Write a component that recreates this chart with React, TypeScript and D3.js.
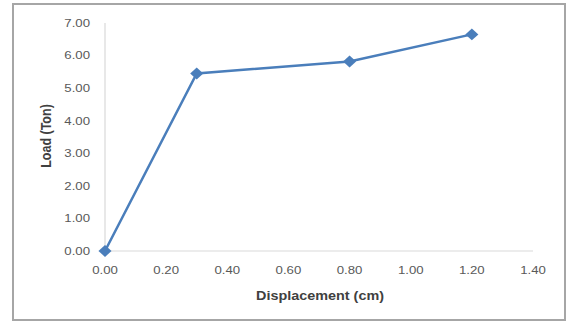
import React from "react";
import * as d3 from "d3";

const displacement = [0, 0.3, 0.8, 1.2];
const load = [0, 5.45, 5.82, 6.65];
const xTicks = [0, 0.2, 0.4, 0.6, 0.8, 1.0, 1.2, 1.4];
const yTicks = [0, 1, 2, 3, 4, 5, 6, 7];
const xTitle = "Displacement (cm)";
const yTitle = "Load (Ton)";

export default function App() {
  const W = 566, H = 327;
  const x = d3.scaleLinear().domain([0, 1.4]).range([105, 533]);
  const y = d3.scaleLinear().domain([0, 7]).range([251, 23]);
  const pts = displacement.map((d, i) => [x(d), y(load[i])] as [number, number]);
  const line = d3.line()(pts) || "";
  const diamond = d3.symbol().type(d3.symbolDiamond2 ?? d3.symbolDiamond).size(90)() || "";
  const font = "'Liberation Sans', Arial, sans-serif";
  const sx = 1.2;
  return (
    <svg width={W} height={H} style={{ position: "absolute", left: 0, top: 0 }}>
      <rect x={0} y={0} width={W} height={H} fill="#fff" />
      <rect x={13} y={4} width={552} height={316} fill="#fff" stroke="#a6a6a6" strokeWidth={2} />
      <line x1={x(0)} x2={x(1.4)} y1={y(0)} y2={y(0)} stroke="#d9d9d9" strokeWidth={1.2} />
      <line x1={x(0)} x2={x(0)} y1={y(0)} y2={y(7)} stroke="#d9d9d9" strokeWidth={1.2} />
      {yTicks.map((t) => (
        <text key={"y" + t} transform={`translate(90,${y(t)}) scale(${sx},1)`} dy="0.35em" textAnchor="end" fontSize={11} fill="#595959" fontFamily={font}>
          {t.toFixed(2)}
        </text>
      ))}
      {xTicks.map((t) => (
        <text key={"x" + t} transform={`translate(${x(t)},270) scale(${sx},1)`} dy="0.35em" textAnchor="middle" fontSize={11} fill="#595959" fontFamily={font}>
          {t.toFixed(2)}
        </text>
      ))}
      <text transform={`translate(320,296) scale(${sx},1)`} dy="0.35em" textAnchor="middle" fontSize={12} fontWeight="bold" fill="#404040" fontFamily={font}>
        {xTitle}
      </text>
      <text transform={`translate(46,136) rotate(-90) scale(1,${sx})`} dy="0.35em" textAnchor="middle" fontSize={12.5} fontWeight="bold" fill="#404040" fontFamily={font}>
        {yTitle}
      </text>
      <path d={line} fill="none" stroke="#4a7ebb" strokeWidth={2.5} />
      {pts.map((p, i) => (
        <path key={i} d={diamond} transform={`translate(${p[0]},${p[1]}) scale(1.1,1)`} fill="#4a7ebb" />
      ))}
    </svg>
  );
}
